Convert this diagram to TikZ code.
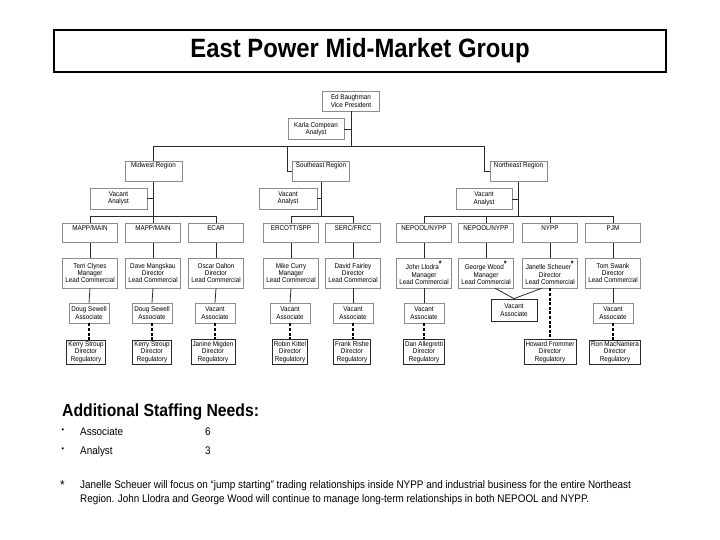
\documentclass[tikz,border=0pt]{standalone}
\usepackage{fontspec}
\setmainfont{Liberation Sans}[FakeStretch=0.9]
\usetikzlibrary{calc}
\definecolor{ink}{HTML}{2A2A2A}
\definecolor{boxline}{HTML}{8C8C8C}
\newcommand\boxtxt{\fontsize{7}{7.4}\selectfont}
\newcommand\listtxt{\fontsize{11}{14}\selectfont}
\newcommand\notemark{\textsuperscript{\bfseries\fontsize{8}{8}\selectfont *}}

\begin{document}
\begin{tikzpicture}[x=1pt,y=-1pt,
  box/.style={draw=boxline,line width=0.6pt,fill=white,align=center,font=\boxtxt,inner sep=1.5pt},
  headbox/.style={box,minimum width=57pt,text height=5pt,text depth=12pt},
  unitbox/.style={box,minimum width=55pt,text height=5pt,text depth=11pt},
  namebox/.style={box,minimum width=55pt,minimum height=30pt},
  assocbox/.style={box,minimum width=40pt,minimum height=20pt},
  regbox/.style={box,draw=ink,line width=0.8pt,minimum height=24pt},
  link/.style={draw=ink,line width=0.8pt},
  dashlink/.style={draw=black,line width=1.2pt,dash pattern=on 3pt off 1.6pt},
]
\useasboundingbox (0,0) rectangle (720,540);

% ===================== TITLE =====================
\node[draw=black,line width=2pt,minimum width=612pt,minimum height=42pt,
      font=\fontsize{26.5}{30}\selectfont\bfseries] (title) at (360,51) {East Power Mid-Market Group};

% ===================== HEAD AND REGIONS =====================
\node[box,minimum width=57pt,minimum height=20pt] (vp) at (351,101) {Ed Baughman\\Vice President};
\node[box,minimum width=56pt,minimum height=21pt] (kc) at (316,129) {Karla Compean\\Analyst};

\node[headbox] (mw) at (153.5,171.5) {Midwest Region};
\node[headbox] (se) at (321,171.5) {Southeast Region};
\node[headbox] (ne) at (518.5,171.5) {Northeast Region};
\coordinate (seJ) at (287,146);
\coordinate (neJ) at (484,146);

\node[box,minimum width=57pt,minimum height=21pt] (mwa) at (118.5,198.5) {Vacant\\Analyst};
\node[box,minimum width=58pt,minimum height=21pt] (sea) at (288,198.5) {Vacant\\Analyst};
\node[box,minimum width=56pt,minimum height=21pt] (nea) at (484,199) {Vacant\\Analyst};
\coordinate (rowbus) at (0,216);

% ===================== MARKETS =====================
\foreach \i/\x/\t in {1/90/{MAPP/MAIN},2/153/{MAPP/MAIN},3/216/ECAR,4/291/{ERCOTT/SPP},5/353/{SERC/FRCC},
                      6/424/{NEPOOL/NYPP},7/486/{NEPOOL/NYPP},8/550/NYPP,9/613/PJM}
  \node[unitbox] (c\i) at (\x,233) {\t};

\foreach \i/\x/\t in {1/90/{Terri Clynes\\Manager\\Lead Commercial},2/153/{Dave Mangskau\\Director\\Lead Commercial},
                      3/216/{Oscar Dalton\\Director\\Lead Commercial},4/291/{Mike Curry\\Manager\\Lead Commercial},
                      5/353/{David Fairley\\Director\\Lead Commercial},6/424/{John Llodra\notemark\\Manager\\Lead Commercial},
                      7/486/{George Wood\notemark\\Manager\\Lead Commercial},8/550/{Janelle Scheuer\notemark\\Director\\Lead Commercial},
                      9/613/{Tom Swank\\Director\\Lead Commercial}}
  \node[namebox] (n\i) at (\x,273) {\t};

\foreach \i/\x/\t in {1/89/{Doug Sewell},2/152/{Doug Sewell},3/215/Vacant,4/290/Vacant,5/353/Vacant,6/424/Vacant,9/613/Vacant}
  \node[assocbox] (a\i) at (\x,313) {\t\\Associate};
\node[assocbox,draw=ink,line width=0.8pt,minimum width=46pt,minimum height=22pt] (a78) at (514,310) {Vacant\\Associate};

\foreach \i/\x/\t in {1/86/{Kerry Stroup},2/152/{Kerry Stroup},3/213/{Janine Migden},4/290/{Robin Kittel},
                      5/352/{Frank Rishe},6/424/{Dan Allegretti},8/550/{Howard Frommer},9/615/{Ron MacNamera}}
  \node[regbox] (r\i) at (\x,352) {\t\\Director\\Regulatory};

% ===================== CONNECTORS =====================
\draw[link] (vp.south) -- (vp.south |- neJ);
\draw[link] (kc.east) -- (kc.east -| vp.south);
\draw[link] (mw.north) |- (neJ) |- (ne.west);
\draw[link] (seJ) |- (se.west);
\foreach \r/\q in {mw/mwa,se/sea,ne/nea}{
  \draw[link] (\r.south) -- (\r.south |- rowbus);
  \draw[link] (\q.east) -- (\q.east -| \r.south);
}
\draw[link] (c1.north) |- (c3.north |- rowbus) -- (c3.north);
\draw[link] (c4.north) |- (c5.north |- rowbus) -- (c5.north);
\draw[link] (c6.north) |- (c9.north |- rowbus) -- (c9.north);
\foreach \i in {2,7,8} \draw[link] (c\i.north) -- (c\i.north |- rowbus);

\foreach \i in {1,...,9} \draw[link] (c\i.south) -- (n\i.north);
\foreach \i in {1,2,3,4,5,6,9} \draw[link] (n\i.south) -- (a\i.north);
\draw[link] ($(n7.south)!0.33!(n7.south east)$) -- (a78.north);
\draw[link] ($(n8.south)!0.3!(n8.south west)$) -- (a78.north);

% dotted-line reporting to regulatory
\foreach \i in {1,2,3,4,5,6,9} \draw[dashlink] (a\i.south) -- (a\i.south |- r\i.north);
\draw[dashlink] (n8.south) -- (n8.south |- r8.north);

% ===================== STAFFING NOTES =====================
\node[anchor=base west,inner sep=0pt,font=\fontsize{17.5}{20}\selectfont\bfseries] (need) at (62,416) {Additional Staffing Needs:};
\node[font=\fontsize{8}{9}\selectfont] (b1) at (63,431) {\textbullet};
\node[anchor=base west,inner sep=0pt,font=\listtxt] (s1) at (80,435) {Associate};
\node[anchor=base west,inner sep=0pt,font=\listtxt] (s1n) at (205,435) {6};
\node[font=\fontsize{8}{9}\selectfont] (b2) at (63,450) {\textbullet};
\node[anchor=base west,inner sep=0pt,font=\listtxt] (s2) at (80,454) {Analyst};
\node[anchor=base west,inner sep=0pt,font=\listtxt] (s2n) at (205,454) {3};

\node[anchor=base west,inner sep=0pt,font=\fontsize{13}{14}\selectfont] (star) at (60,489) {*};
\node[anchor=north west,inner sep=0pt,align=left,font=\listtxt] (note) at (80,480)
  {Janelle Scheuer will focus on “jump starting” trading relationships inside NYPP and industrial business for the entire Northeast\\
   Region. John Llodra and George Wood will continue to manage long-term relationships in both NEPOOL and NYPP.};

\end{tikzpicture}
\end{document}
